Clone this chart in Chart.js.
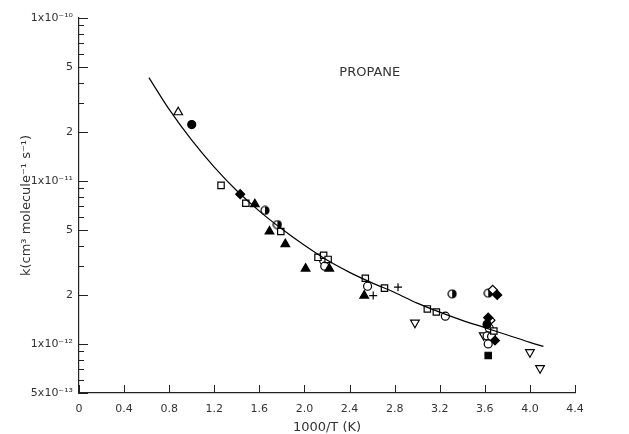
<!DOCTYPE html>
<html>
<head>
<meta charset="utf-8">
<script src="https://cdn.jsdelivr.net/npm/chart.js@4"></script>
<style>
  html, body { margin: 0; padding: 0; background: #fff; }
  #wrap { width: 629px; height: 434px; position: relative; }
</style>
</head>
<body>
<div id="wrap"><canvas id="chart"></canvas></div>
<script>
// x = 1000/T (K), y = k (cm3 molecule-1 s-1)
const xTicks = [0, 0.4, 0.8, 1.2, 1.6, 2.0, 2.4, 2.8, 3.2, 3.6, 4.0, 4.4];
const yMajor = [5e-13, 1e-12, 2e-12, 5e-12, 1e-11, 2e-11, 5e-11, 1e-10];
const yMinor = [6e-13, 7e-13, 8e-13, 9e-13, 3e-12, 4e-12, 6e-12, 7e-12, 8e-12, 9e-12,
                3e-11, 4e-11, 6e-11, 7e-11, 8e-11, 9e-11];
const yLabels = {
  5e-13: '5x10\u207B\u00B9\u00B3', 1e-12: '1x10\u207B\u00B9\u00B2', 2e-12: '2', 5e-12: '5',
  1e-11: '1x10\u207B\u00B9\u00B9', 2e-11: '2', 5e-11: '5', 1e-10: '1x10\u207B\u00B9\u2070'
};

// fitted curve
const curveX = [0.62, 0.8, 1.0, 1.2, 1.4, 1.6, 1.8, 2.0, 2.2, 2.4, 2.6, 2.8,
                3.0, 3.2, 3.4, 3.6, 3.8, 4.0, 4.12];
const curveY = [4.31e-11, 2.75e-11, 1.78e-11, 1.216e-11, 8.71e-12, 6.53e-12, 5.07e-12, 4.03e-12,
                3.27e-12, 2.75e-12, 2.37e-12, 2.07e-12, 1.78e-12, 1.567e-12, 1.396e-12, 1.26e-12,
                1.135e-12, 1.023e-12, 0.966e-12];

// measurements, by marker type
const openTriX = [0.88];
const openTriY = [2.64e-11];
const fillCircX = [1.00, 3.62];
const fillCircY = [2.22e-11, 1.32e-12];
const openSqX = [1.26, 1.48, 1.79, 2.12, 2.17, 2.21, 2.54, 2.71, 3.09, 3.17, 3.68];
const openSqY = [9.4e-12, 7.3e-12, 4.9e-12, 3.4e-12, 3.5e-12, 3.3e-12, 2.53e-12, 2.2e-12, 1.64e-12, 1.57e-12, 1.2e-12];
const fillDiaX = [1.43, 3.71, 3.63, 3.69];
const fillDiaY = [8.3e-12, 2.0e-12, 1.45e-12, 1.05e-12];
const openDiaX = [3.67, 3.65];
const openDiaY = [2.15e-12, 1.4e-12];
const fillTriX = [1.56, 1.69, 1.83, 2.01, 2.22, 2.53];
const fillTriY = [7.2e-12, 4.9e-12, 4.1e-12, 2.9e-12, 2.9e-12, 1.98e-12];
const halfCircX = [1.65, 1.76, 3.31, 3.63];
const halfCircY = [6.6e-12, 5.4e-12, 2.03e-12, 2.05e-12];
const openCircX = [2.17, 2.18, 2.56, 3.25, 3.64, 3.62, 3.66, 3.63];
const openCircY = [3.25e-12, 3.0e-12, 2.26e-12, 1.48e-12, 1.25e-12, 1.12e-12, 1.11e-12, 1.0e-12];
const plusX = [2.61, 2.83];
const plusY = [1.98e-12, 2.23e-12];
const downTriX = [2.98, 3.59, 4.0, 4.09];
const downTriY = [1.35e-12, 1.13e-12, 0.89e-12, 0.71e-12];
const fillSqX = [3.63];
const fillSqY = [0.85e-12];

const zip = (xs, ys) => xs.map((x, i) => ({ x: x, y: ys[i] }));

// half filled circle marker
function halfCircle(r) {
    const c = document.createElement('canvas');
    c.width = c.height = r * 2 + 2;
    const g = c.getContext('2d');
    const m = r + 1;
    g.fillStyle = '#fff';
    g.beginPath(); g.arc(m, m, r, 0, Math.PI * 2); g.fill();
    g.fillStyle = '#000';
    g.beginPath(); g.arc(m, m, r, -Math.PI / 2, Math.PI / 2); g.fill();
    g.strokeStyle = '#000'; g.lineWidth = 1.2;
    g.beginPath(); g.arc(m, m, r, 0, Math.PI * 2); g.stroke();
    return c;
}

const base = { showLine: false, borderColor: '#000', borderWidth: 1.2, pointHoverRadius: 0 };
const datasets = [
    { type: 'line', data: zip(curveX, curveY), borderColor: '#000', borderWidth: 1.2, pointRadius: 0,
      cubicInterpolationMode: 'monotone', fill: false },
    Object.assign({ data: zip(openTriX, openTriY), pointStyle: 'triangle', pointRadius: 5, backgroundColor: '#fff' }, base),
    Object.assign({ data: zip(fillCircX, fillCircY), pointStyle: 'circle', pointRadius: 4, backgroundColor: '#000' }, base),
    Object.assign({ data: zip(openSqX, openSqY), pointStyle: 'rect', pointRadius: 4.5, backgroundColor: '#fff' }, base),
    Object.assign({ data: zip(fillDiaX, fillDiaY), pointStyle: 'rectRot', pointRadius: 4.5, backgroundColor: '#000' }, base),
    Object.assign({ data: zip(openDiaX, openDiaY), pointStyle: 'rectRot', pointRadius: 4.5, backgroundColor: '#fff' }, base),
    Object.assign({ data: zip(fillTriX, fillTriY), pointStyle: 'triangle', pointRadius: 5, backgroundColor: '#000' }, base),
    Object.assign({ data: zip(halfCircX, halfCircY), pointStyle: halfCircle(4) }, base),
    Object.assign({ data: zip(openCircX, openCircY), pointStyle: 'circle', pointRadius: 4, backgroundColor: '#fff' }, base),
    Object.assign({ data: zip(plusX, plusY), pointStyle: 'cross', pointRadius: 4, backgroundColor: '#000' }, base),
    Object.assign({ data: zip(downTriX, downTriY), pointStyle: 'triangle', rotation: 180, pointRadius: 5, backgroundColor: '#fff' }, base),
    Object.assign({ data: zip(fillSqX, fillSqY), pointStyle: 'rect', pointRadius: 4.5, backgroundColor: '#000' }, base)
];

// inward ticks and the label in the plot
const axisMarks = {
    id: 'axisMarks',
    afterDraw(chart) {
        const ctx = chart.ctx, xs = chart.scales.x, ys = chart.scales.y;
        const left = xs.left, bottom = ys.bottom;
        ctx.save();
        ctx.strokeStyle = '#222';
        ctx.lineWidth = 1;
        ctx.beginPath();
        xTicks.forEach(v => {
            const px = Math.round(xs.getPixelForValue(v)) + 0.5;
            ctx.moveTo(px, bottom); ctx.lineTo(px, bottom - 8);
        });
        yMajor.forEach(v => {
            const py = Math.round(ys.getPixelForValue(v)) + 0.5;
            ctx.moveTo(left, py); ctx.lineTo(left + 9, py);
        });
        yMinor.forEach(v => {
            const py = Math.round(ys.getPixelForValue(v)) + 0.5;
            ctx.moveTo(left, py); ctx.lineTo(left + 5, py);
        });
        ctx.stroke();
        ctx.fillStyle = '#333';
        ctx.font = '13px "DejaVu Sans"';
        ctx.textAlign = 'center';
        ctx.textBaseline = 'middle';
        ctx.fillText('PROPANE', xs.getPixelForValue(2.58), ys.getPixelForValue(4.6e-11));
        ctx.restore();
    }
};

new Chart(document.getElementById('chart'), {
    type: 'scatter',
    data: { datasets: datasets },
    plugins: [axisMarks],
    options: {
        responsive: true,
        maintainAspectRatio: false,
        animation: false,
        layout: { padding: { top: 18, right: 54, left: 0, bottom: 0 } },
        plugins: { legend: { display: false }, tooltip: { enabled: false } },
        scales: {
            x: {
                type: 'linear', min: 0, max: 4.4,
                afterBuildTicks: s => { s.ticks = xTicks.map(v => ({ value: v })); },
                afterFit: s => { s.height = 41; },
                grid: { display: false, drawTicks: false },
                border: { display: true, color: '#222', width: 1.2 },
                ticks: { color: '#333', padding: 10, maxRotation: 0, font: { family: 'DejaVu Sans', size: 11 },
                         callback: v => v === 0 ? '0' : v.toFixed(1) },
                title: { display: true, text: '1000/T (K)', color: '#333', padding: { top: 0, bottom: -1 },
                         font: { family: 'DejaVu Sans', size: 13 } }
            },
            y: {
                type: 'logarithmic', min: 5e-13, max: 1e-10,
                afterBuildTicks: s => { s.ticks = yMajor.map(v => ({ value: v })); },
                afterFit: s => { s.width = 79; },
                grid: { display: false, drawTicks: false },
                border: { display: true, color: '#222', width: 1.2 },
                ticks: { color: '#333', padding: 6, font: { family: 'DejaVu Sans', size: 11 },
                         callback: v => yLabels[v] || '' },
                title: { display: true, text: 'k(cm\u00B3 molecule\u207B\u00B9 s\u207B\u00B9)', color: '#333',
                         padding: { top: 19, bottom: 0 }, font: { family: 'DejaVu Sans', size: 13 } }
            }
        }
    }
});
</script>
</body>
</html>
